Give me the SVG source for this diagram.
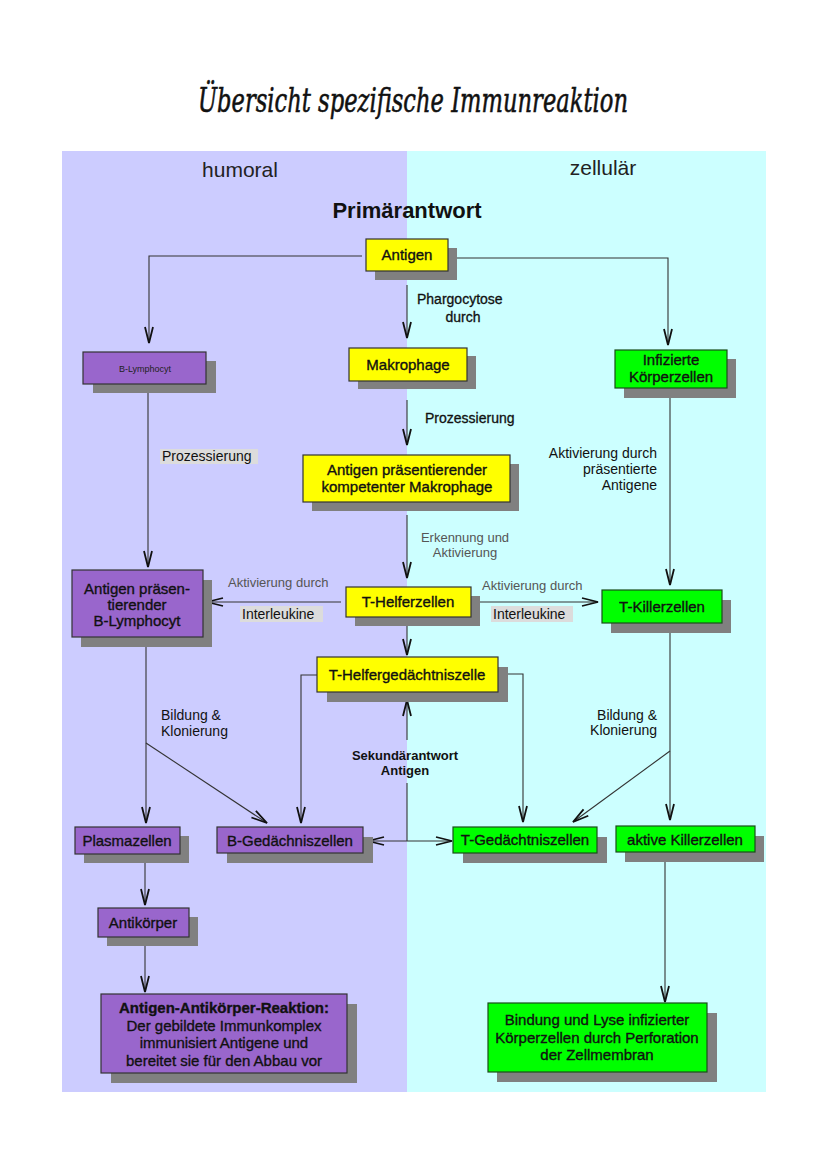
<svg xmlns="http://www.w3.org/2000/svg" width="828" height="1171" viewBox="0 0 828 1171">
<defs>
<marker id="v" markerUnits="userSpaceOnUse" markerWidth="20" markerHeight="12" viewBox="-18 -6 20 12" refX="0" refY="0" orient="auto">
<path d="M-16,-4 L0,0 L-16,4" fill="none" stroke="#111" stroke-width="1.8"/>
</marker>
</defs>
<style>
text{font-family:"Liberation Sans",Arial,sans-serif;fill:#111}
.sh{fill:#808080}
.y{fill:#ffff00;stroke:#333;stroke-width:1.2}
.p{fill:#9966cc;stroke:#333;stroke-width:1.2}
.g{fill:#00ff00;stroke:#1a4d1a;stroke-width:1.2}
.bt{font-size:15px;text-anchor:middle;stroke:#111;stroke-width:0.35}
.lbl{font-size:14px}
.dk{stroke:#111;stroke-width:0.3}
.gr{font-size:13px;fill:#555}
.hl{fill:#dcdcdc}
.c{fill:none;stroke:#333;stroke-width:1.1}
.a{marker-end:url(#v)}
</style>
<rect width="828" height="1171" fill="#ffffff"/>
<rect x="62" y="151" width="345" height="941" fill="#ccccff"/>
<rect x="407" y="151" width="359" height="941" fill="#ccffff"/>
<text x="413" y="112" text-anchor="middle" textLength="430" lengthAdjust="spacingAndGlyphs" style="font-family:'DejaVu Serif','Liberation Serif',serif;font-style:italic;font-size:33px;fill:#111;stroke:#111;stroke-width:0.6">Übersicht spezifische Immunreaktion</text>
<text x="240" y="177" text-anchor="middle" style="font-size:21px;fill:#222">humoral</text>
<text x="603" y="175" text-anchor="middle" style="font-size:21px;fill:#222">zellulär</text>
<text x="407" y="218" text-anchor="middle" style="font-size:22px;font-weight:bold">Primärantwort</text>

<g id="connectors">
<path class="c a" d="M362,256 H149 V343"/>
<path class="c a" d="M457,258 H668 V345"/>
<path class="c a" d="M407,285 V338"/>
<path class="c a" d="M407,400 V445"/>
<path class="c a" d="M407,515 V578"/>
<path class="c a" d="M341,602 H207"/>
<path class="c a" d="M480,602 H598"/>
<path class="c a" d="M670,398 V585"/>
<path class="c a" d="M148,393 V567"/>
<path class="c a" d="M407,626 V655"/>
<path class="c a" d="M317,675 H301 V823"/>
<path class="c a" d="M508,674 H523 V822"/>
<path class="c a" d="M407,740 V700"/>
<path class="c" d="M407,783 V841"/>
<path class="c a" d="M407,841 H368"/>
<path class="c a" d="M407,841 H452"/>
<path class="c a" d="M670,633 V820"/>
<path class="c a" d="M670,751 L573,822"/>
<path class="c a" d="M146,647 V823"/>
<path class="c a" d="M146,743 L267,823"/>
<path class="c a" d="M145,863 V905"/>
<path class="c a" d="M145,946 V992"/>
<path class="c a" d="M665,862 V1002"/>
</g>

<g id="labels">
<text class="lbl dk" x="417" y="304">Phargocytose</text>
<text class="lbl dk" x="463" y="322" text-anchor="middle">durch</text>
<text class="lbl dk" x="425" y="423">Prozessierung</text>
<text class="gr" x="465" y="542" text-anchor="middle">Erkennung und</text>
<text class="gr" x="465" y="557" text-anchor="middle">Aktivierung</text>
<rect class="hl" x="160" y="449" width="98" height="15"/>
<text class="lbl" x="162" y="461">Prozessierung</text>
<text class="lbl" x="657" y="458" text-anchor="end">Aktivierung durch</text>
<text class="lbl" x="657" y="474" text-anchor="end">präsentierte</text>
<text class="lbl" x="657" y="490" text-anchor="end">Antigene</text>
<text class="gr" x="228" y="587">Aktivierung durch</text>
<rect class="hl" x="240" y="606" width="83" height="16"/>
<text class="lbl" x="242" y="619">Interleukine</text>
<text class="gr" x="482" y="590">Aktivierung durch</text>
<rect class="hl" x="491" y="606" width="82" height="16"/>
<text class="lbl" x="493" y="619">Interleukine</text>
<text class="lbl" x="161" y="720">Bildung &amp;</text>
<text class="lbl" x="161" y="736">Klonierung</text>
<text class="lbl" x="657" y="720" text-anchor="end">Bildung &amp;</text>
<text class="lbl" x="657" y="735" text-anchor="end">Klonierung</text>
<text x="405" y="760" text-anchor="middle" style="font-size:13px;font-weight:bold">Sekundärantwort</text>
<text x="405" y="775" text-anchor="middle" style="font-size:13px;font-weight:bold">Antigen</text>
</g>

<g id="antigen">
<rect class="sh" x="375" y="248" width="82" height="32"/>
<rect class="y" x="366" y="239" width="82" height="32"/>
<text class="bt" x="407" y="260">Antigen</text>
</g>
<g id="b-lymphocyt">
<rect class="sh" x="93" y="361" width="123" height="32"/>
<rect class="p" x="83" y="352" width="123" height="32"/>
<text x="145" y="372" text-anchor="middle" style="font-size:9px;fill:#222">B-Lymphocyt</text>
</g>
<g id="makrophage">
<rect class="sh" x="358" y="356" width="118" height="33"/>
<rect class="y" x="349" y="348" width="118" height="33"/>
<text class="bt" x="408" y="370">Makrophage</text>
</g>
<g id="infizierte">
<rect class="sh" x="624" y="359" width="112" height="39"/>
<rect class="g" x="615" y="350" width="112" height="38"/>
<text class="bt" x="671" y="365">Infizierte</text>
<text class="bt" x="671" y="382">Körperzellen</text>
</g>
<g id="apk-makrophage">
<rect class="sh" x="312" y="464" width="207" height="47"/>
<rect class="y" x="303" y="455" width="207" height="47"/>
<text class="bt" x="407" y="475">Antigen präsentierender</text>
<text class="bt" x="407" y="492">kompetenter Makrophage</text>
</g>
<g id="apk-b-lymphocyt">
<rect class="sh" x="81" y="580" width="131" height="67"/>
<rect class="p" x="72" y="570" width="131" height="67"/>
<text class="bt" x="137" y="594">Antigen präsen-</text>
<text class="bt" x="137" y="610">tierender</text>
<text class="bt" x="137" y="626">B-Lymphocyt</text>
</g>
<g id="t-helferzellen">
<rect class="sh" x="355" y="596" width="125" height="30"/>
<rect class="y" x="346" y="587" width="125" height="30"/>
<text class="bt" x="408" y="607">T-Helferzellen</text>
</g>
<g id="t-killerzellen">
<rect class="sh" x="611" y="600" width="120" height="33"/>
<rect class="g" x="602" y="590" width="120" height="33"/>
<text class="bt" x="662" y="612">T-Killerzellen</text>
</g>
<g id="t-helfergedaechtniszelle">
<rect class="sh" x="327" y="667" width="181" height="35"/>
<rect class="y" x="317" y="657" width="181" height="35"/>
<text class="bt" x="407" y="680">T-Helfergedächtniszelle</text>
</g>
<g id="plasmazellen">
<rect class="sh" x="84" y="836" width="105" height="27"/>
<rect class="p" x="75" y="827" width="105" height="27"/>
<text class="bt" x="127" y="846">Plasmazellen</text>
</g>
<g id="b-gedaechniszellen">
<rect class="sh" x="227" y="837" width="146" height="26"/>
<rect class="p" x="217" y="827" width="146" height="26"/>
<text class="bt" x="290" y="846">B-Gedächniszellen</text>
</g>
<g id="t-gedaechtniszellen">
<rect class="sh" x="463" y="837" width="144" height="26"/>
<rect class="g" x="453" y="827" width="144" height="26"/>
<text class="bt" x="525" y="845">T-Gedächtniszellen</text>
</g>
<g id="aktive-killerzellen">
<rect class="sh" x="625" y="836" width="139" height="26"/>
<rect class="g" x="616" y="826" width="139" height="26"/>
<text class="bt" x="685" y="845">aktive Killerzellen</text>
</g>
<g id="antikoerper">
<rect class="sh" x="107" y="917" width="91" height="29"/>
<rect class="p" x="98" y="908" width="91" height="29"/>
<text class="bt" x="143" y="928">Antikörper</text>
</g>
<g id="antigen-antikoerper-reaktion">
<rect class="sh" x="111" y="1004" width="246" height="79"/>
<rect class="p" x="101" y="994" width="246" height="79"/>
<text class="bt" x="224" y="1013" style="font-weight:bold">Antigen-Antikörper-Reaktion:</text>
<text class="bt" x="224" y="1031">Der gebildete Immunkomplex</text>
<text class="bt" x="224" y="1048">immunisiert Antigene und</text>
<text class="bt" x="224" y="1066">bereitet sie für den Abbau vor</text>
</g>
<g id="bindung-lyse">
<rect class="sh" x="497" y="1013" width="220" height="69"/>
<rect class="g" x="488" y="1003" width="219" height="69"/>
<text class="bt" x="597" y="1025">Bindung und Lyse infizierter</text>
<text class="bt" x="597" y="1043">Körperzellen durch Perforation</text>
<text class="bt" x="597" y="1060">der Zellmembran</text>
</g>
</svg>
